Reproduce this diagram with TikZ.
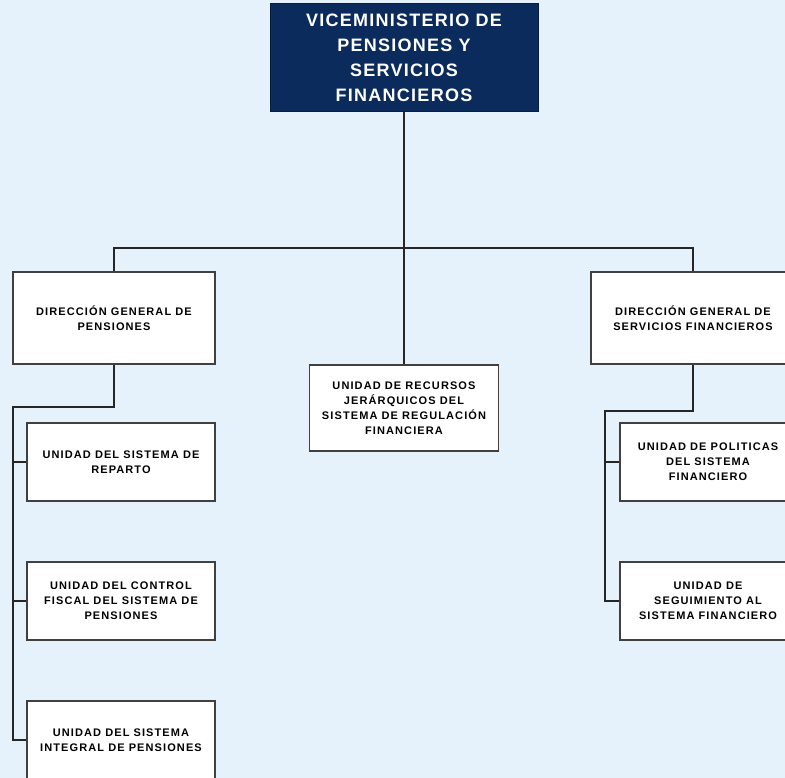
\documentclass[tikz,border=0pt]{standalone}
\usepackage{fontspec}
\setmainfont{Liberation Sans}
\newfontfamily\titlefont[LetterSpace=7]{Liberation Sans}
\newfontfamily\unitfont[LetterSpace=10]{Liberation Sans}
\usepackage{tikz}
\definecolor{darkNavy}{rgb}{0.04,0.17,0.36}
\definecolor{paleBlue}{rgb}{0.90,0.95,0.99}
\definecolor{boxGray}{rgb}{0.25,0.25,0.25}

\begin{document}
\begin{tikzpicture}[x=1pt,y=-1pt,
    unit/.style={draw=boxGray,line width=1.6pt,fill=white,align=center,inner sep=0pt,
      font=\unitfont\bfseries\fontsize{11}{15}\selectfont},
    conn/.style={draw=black!85,line width=1.7pt}]
    \def\W{785} \def\H{778}

    \useasboundingbox (0,0) rectangle (\W,\H);
    \clip (0,0) rectangle (\W,\H);
    \fill [paleBlue] (0,0) rectangle (\W,\H);

    % top level
    \node [draw=darkNavy!70!black,line width=1pt,fill=darkNavy,text=white,align=center,
      minimum width=268pt,minimum height=108pt,inner sep=0pt,
      font=\titlefont\bfseries\fontsize{18}{25}\selectfont] (vm) at (404,58)
      {VICEMINISTERIO DE\\PENSIONES Y\\SERVICIOS\\FINANCIEROS};

    % direcciones
    \node [unit,minimum width=202pt,minimum height=92pt] (dgp) at (114,318)
      {DIRECCIÓN GENERAL DE\\PENSIONES};
    \node [unit,minimum width=189pt,minimum height=86pt] (urj) at (404,408)
      {UNIDAD DE RECURSOS\\JERÁRQUICOS DEL\\SISTEMA DE REGULACIÓN\\FINANCIERA};
    \node [unit,minimum width=204pt,minimum height=92pt] (dgsf) at (693,318)
      {DIRECCIÓN GENERAL DE\\SERVICIOS FINANCIEROS};

    % unidades
    \node [unit,minimum width=188pt,minimum height=78pt] (usr) at (121,462)
      {UNIDAD DEL SISTEMA DE\\REPARTO};
    \node [unit,minimum width=188pt,minimum height=78pt] (ucf) at (121,601)
      {UNIDAD DEL CONTROL\\FISCAL DEL SISTEMA DE\\PENSIONES};
    \node [unit,minimum width=188pt,minimum height=78pt] (usi) at (121,740)
      {UNIDAD DEL SISTEMA\\INTEGRAL DE PENSIONES};
    \node [unit,minimum width=176pt,minimum height=78pt] (upf) at (708,462)
      {UNIDAD DE POLITICAS\\DEL SISTEMA\\FINANCIERO};
    \node [unit,minimum width=176pt,minimum height=78pt] (usf) at (708,601)
      {UNIDAD DE\\SEGUIMIENTO AL\\SISTEMA FINANCIERO};

    \coordinate (hub) at (404,248);
    \coordinate (lbend) at (13,407);
    \coordinate (rbend) at (605,411);

    \draw [conn] (vm.south) -- (urj.north);
    \draw [conn] (dgp.north) |- (hub) -| (dgsf.north);
    \draw [conn] (dgp.south) |- (lbend) |- (usi.west);
    \draw [conn] (lbend |- usr.west) -- (usr.west);
    \draw [conn] (lbend |- ucf.west) -- (ucf.west);
    \draw [conn] (dgsf.south) |- (rbend) |- (usf.west);
    \draw [conn] (rbend |- upf.west) -- (upf.west);
\end{tikzpicture}
\end{document}
